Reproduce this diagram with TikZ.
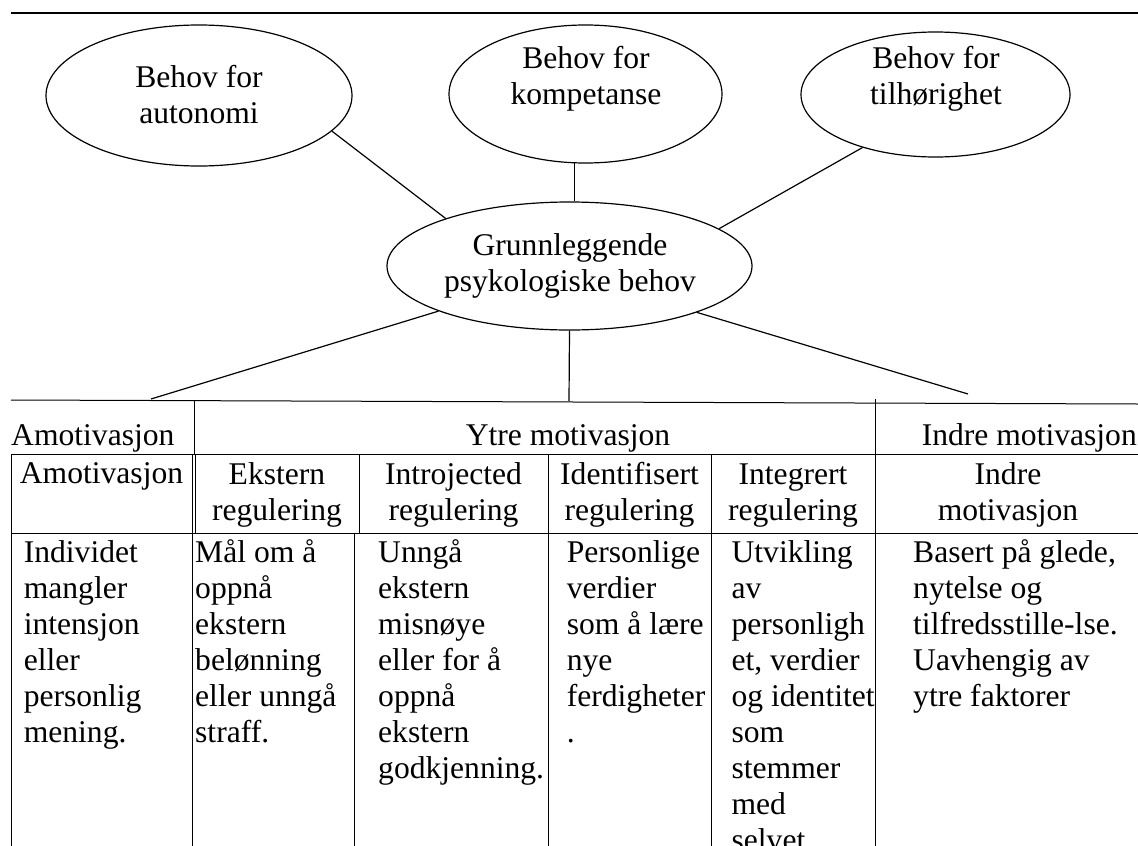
\documentclass[tikz,border=0pt]{standalone}
\usepackage{fontspec}
\setmainfont{Liberation Serif}
\usetikzlibrary{shapes.geometric}

\tikzset{
    need/.style={draw, ellipse, line width=1.2pt, inner sep=0pt},
    txt/.style={inner sep=0pt, align=center, font=\fontsize{31.6}{36}\selectfont},
    celltxt/.style={inner sep=0pt, align=left, anchor=base west, font=\fontsize{31.6}{36}\selectfont},
    rule/.style={line width=1pt},
}

\begin{document}
\begin{tikzpicture}[x=1pt, y=-1pt]
    \useasboundingbox (0,0) rectangle (1138,846);
    \clip (0,0) rectangle (1138,846);

    \draw[line width=1.5pt] (11,13) -- (1138,13);

    % needs (a node with several lines sits on its last baseline)
    \node[need, minimum width=306, minimum height=141] (aut) at (199,95.5) {};
    \node[need, minimum width=273, minimum height=138] (komp) at (585.5,94) {};
    \node[need, minimum width=269, minimum height=125] (til) at (935.5,94.5) {};
    \node[need, minimum width=365, minimum height=128] (grunn) at (569.5,266) {};

    \node[txt, anchor=base] (autT) at (199,123) {Behov for\\autonomi};
    \node[txt, anchor=base] (kompT) at (586,104) {Behov for\\kompetanse};
    \node[txt, anchor=base] (tilT) at (936,104) {Behov for\\tilhørighet};
    \node[txt, anchor=base] (grunnT) at (570,291) {Grunnleggende\\psykologiske behov};

    \draw[line width=1.2pt] (aut.-15) -- (grunn.159);
    \draw[line width=1.2pt] (komp.-99) -- (komp.-99 |- grunn.north);
    \draw[line width=1.2pt] (til.216) -- (grunn.14);

    \coordinate (amo) at (151,399);
    \coordinate (ytre) at (569,401);
    \coordinate (indre) at (968,394);
    \draw[line width=1.2pt] (grunn.199) -- (amo);
    \draw[line width=1.2pt] (grunn.south) -- (ytre);
    \draw[line width=1.2pt] (grunn.-20) -- (indre);

    % table
    \draw[rule] (11,400) -- (1138,404);
    \draw[rule] (11,454) -- (1138,454);
    \draw[rule] (11,533) -- (1138,533);
    \draw[rule] (194,400) -- (194,454);
    \draw[rule] (875,399) -- (875,846);
    \draw[rule] (11,454) -- (11,846);
    \draw[rule] (192.7,454) -- (192.7,846);
    \draw[rule] (195.7,454) -- (195.7,533);
    \draw[rule] (359,454) -- (359,533);
    \draw[rule] (354.5,533) -- (354.5,846);
    \foreach \x in {548,711}
        \draw[rule] (\x,454) -- (\x,846);

    \node[txt, anchor=base west] (amoH) at (11,445) {Amotivasjon};
    \node[txt, anchor=base] (ytreH) at (568,445) {Ytre motivasjon};
    \node[txt, anchor=base east] (indreH) at (1137,445) {Indre motivasjon};

    \node[txt, anchor=base] (amoS) at (101.5,483) {Amotivasjon};
    \node[txt, anchor=base] (ekstS) at (277,520) {Ekstern\\regulering};
    \node[txt, anchor=base] (introS) at (453.5,520) {Introjected\\regulering};
    \node[txt, anchor=base] (identS) at (629.5,520) {Identifisert\\regulering};
    \node[txt, anchor=base] (integS) at (793,520) {Integrert\\regulering};
    \node[txt, anchor=base] (indreS) at (1008,520) {Indre\\motivasjon};

    \node[celltxt] (amoD) at (23.6,742) {Individet\\mangler\\intensjon\\eller\\personlig\\mening.};
    \node[celltxt] (ekstD) at (195,742) {Mål om å\\oppnå\\ekstern\\belønning\\eller unngå\\straff.};
    \node[celltxt] (introD) at (378,778) {Unngå\\ekstern\\misnøye\\eller for å\\oppnå\\ekstern\\godkjenning.};
    \node[celltxt] (identD) at (566.6,742) {Personlige\\verdier\\som å lære\\nye\\ferdigheter\\.};
    \node[celltxt] (integD) at (731.4,850) {Utvikling\\av\\personligh\\et, verdier\\og identitet\\som\\stemmer\\med\\selvet};
    \node[celltxt] (indreD) at (913,706) {Basert på glede,\\nytelse og\\tilfredsstille-lse.\\Uavhengig av\\ytre faktorer};
\end{tikzpicture}
\end{document}
